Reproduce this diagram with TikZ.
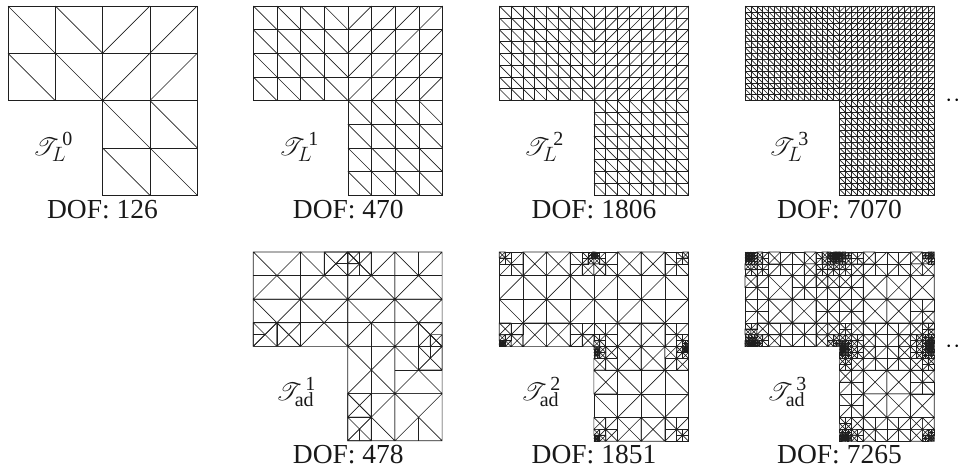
\documentclass[tikz,border=0pt]{standalone}
\usepackage{mathrsfs}
\usepackage{fontspec}
\setmainfont{Liberation Serif}
\DeclareMathSizes{36}{36}{20}{14}
\tikzset{
  mesh/.style={line width=0.65pt,draw=black!88},
  dof/.style={font=\fontsize{27.5}{30}\selectfont,anchor=base,inner sep=0pt,text=black!90},
  lab/.style={font=\fontsize{36}{38}\selectfont,anchor=base west,inner sep=0pt,text=black!90},
  dotslab/.style={font=\fontsize{36}{38}\selectfont,anchor=center,inner sep=0pt}
}
\newcommand\panelat[3]{\begin{scope}[shift={(#1pt,#2pt)},x=#3pt,y=-#3pt]}
% uniform mesh
\newcommand\unimesh[1]{%
  \pgfmathtruncatemacro\NN{#1}\pgfmathtruncatemacro\NH{\NN/2}%
  \pgfmathsetmacro\hh{8/\NN}%
  \foreach \i in {1,...,\NN}{\foreach \j in {1,...,\NN}{%
    \pgfmathtruncatemacro\ok{(\j<=\NH)||(\i>\NH)}%
    \ifnum\ok=1
      \pgfmathsetmacro\xa{(\i-1)*\hh}\pgfmathsetmacro\ya{(\j-1)*\hh}%
      \pgfmathsetmacro\xb{\i*\hh}\pgfmathsetmacro\yb{\j*\hh}%
      \draw[mesh] (\xa,\ya) rectangle (\xb,\yb);
      \pgfmathtruncatemacro\up{(\i>\NH)&&(\j<=\NH)}%
      \ifnum\up=1 \draw[mesh] (\xa,\yb)--(\xb,\ya);\else\draw[mesh] (\xa,\ya)--(\xb,\yb);\fi
    \fi}}%
}
% adaptive mesh
\newcommand\xleaf[3]{\draw[mesh] (#1,#2) rectangle ({#1+#3},{#2+#3}) (#1,#2)--({#1+#3},{#2+#3}) ({#1+#3},#2)--(#1,{#2+#3});}
\newcommand\evaltgt[2]{%
  \xdef\tgtg{\baselev}%
  \foreach \bxa/\bxb/\bya/\byb/\bl in \bandlist {%
    \pgfmathparse{(#1>\bxa&&#1<\bxb&&#2>\bya&&#2<\byb)?max(\tgtg,\bl):\tgtg}%
    \xdef\tgtg{\pgfmathresult}%
  }%
  \foreach \px/\py/\pa/\pc in \singlist {%
    \pgfmathparse{max(\tgtg,min(\pc,\pa-2*log2(max(veclen(#1-\px,#2-\py),0.02))))}%
    \xdef\tgtg{\pgfmathresult}%
  }%
}
% x y size level diagdir(1 = \ , 2 = /)
\newcommand\adcell[5]{\begingroup
  \edef\ax{#1}\edef\ay{#2}\edef\as{#3}\edef\al{#4}%
  \pgfmathsetmacro\cx{\ax+\as/2}\pgfmathsetmacro\cy{\ay+\as/2}%
  \evaltgt{\cx}{\cy}%
  \pgfmathtruncatemacro\mode{\tgtg<\al?0:(\tgtg<\al+1?1:2)}%
  \ifcase\mode
    \pgfmathsetmacro\xe{\ax+\as}\pgfmathsetmacro\ye{\ay+\as}%
    \draw[mesh] (\ax,\ay) rectangle (\xe,\ye);
    \ifnum#5=1 \draw[mesh] (\ax,\ay)--(\xe,\ye);\else\draw[mesh] (\ax,\ye)--(\xe,\ay);\fi
  \or
    \xleaf{\ax}{\ay}{\as}%
  \or
    \adsplit{\ax}{\ay}{\as}{\al}%
  \fi
\endgroup}
\newcommand\adsplit[4]{\begingroup
    \pgfmathsetmacro\sh{#3/2}\pgfmathsetmacro\xm{#1+\sh}\pgfmathsetmacro\ym{#2+\sh}%
    \pgfmathtruncatemacro\lv{#4+2}%
    \edef\nexta{\noexpand\adcell{#1}{#2}{\sh}{\lv}{1}\noexpand\adcell{\xm}{#2}{\sh}{\lv}{2}\noexpand\adcell{#1}{\ym}{\sh}{\lv}{2}\noexpand\adcell{\xm}{\ym}{\sh}{\lv}{1}}%
    \nexta
\endgroup}
\newcommand\admesh{%
  \foreach \sx/\sy in {0/0,2/0,4/0,6/0,0/2,2/2,4/2,6/2,4/4,6/4,4/6,6/6}{\adsplit{\sx}{\sy}{2}{0}}%
}
\begin{document}
\begin{tikzpicture}[x=1pt,y=-1pt]
\useasboundingbox (0,0) rectangle (961,471);
% top row meshes
\panelat{8}{-6}{23.65}\unimesh{4}\end{scope}
\panelat{253.3}{-6}{23.65}\unimesh{8}\end{scope}
\panelat{499.3}{-6}{23.65}\unimesh{16}\end{scope}
\panelat{745}{-6}{23.65}\unimesh{32}\end{scope}
% adaptive 1 (hand placed)
\panelat{253.3}{-252}{23.6}
  \foreach \sx/\sy in {0/0,2/0,4/0,6/0,0/2,2/2,4/2,6/2,4/4,6/4,4/6,6/6}{\xleaf{\sx}{\sy}{2}}
  \draw[mesh] (0,1)--(8,1) (0,3)--(8,3) (6,5)--(8,5) (4,7)--(5,7)
    (1,3)--(1,4) (3,0)--(3,1) (5,0)--(5,1) (7,0)--(7,1) (7,3)--(7,5) (5,3)--(5,8) (7,7)--(7,8);
  \xleaf{3}{0}{1}\xleaf{4}{0}{1}\xleaf{4}{0}{0.5}\draw[mesh] (3.5,0.5)--(4.5,0.5) (4.5,0)--(4.5,1);
  \xleaf{0}{3}{1}\xleaf{1}{3}{1}\draw[mesh] (0,3.5)--(0.5,3.5);
  \xleaf{7}{3}{1}\xleaf{7}{4}{1}\xleaf{7.5}{3.5}{0.5}\draw[mesh] (7.5,3.5)--(7.5,4.5);
  \xleaf{4}{6}{1}\xleaf{4}{7}{1}\draw[mesh] (4.5,7.5)--(4.5,8);
\end{scope}
% adaptive 2
\def\baselev{1}
\def\bandlist{0/8/0/1/2, 0/8/3/5/2, 4/8/7/8/2}
\def\singlist{0.1/3.9/3/10, 4/0.1/3/10, 4.1/4.2/3/9, 7.9/4.1/3/10, 4.1/7.9/3/9, 0.05/0.05/2.5/6, 7.95/0.05/2.5/6, 7.95/7.95/2.5/5}
\panelat{499.3}{-252}{23.65}\admesh\end{scope}
% adaptive 3
\def\baselev{2}
\def\bandlist{0/8/0/1/3, 0/8/3/5/3, 4/8/7/8/3}
\def\singlist{0.3/3.9/4.3/10, 3.9/0.1/5/10, 4.1/4.1/4.6/10, 7.9/4/4.8/10, 4.2/7.9/4.4/10, 0.1/0.1/4.8/9, 7.95/0.05/4/8, 7.95/7.95/4/8}
\panelat{745}{-252}{23.65}\admesh\end{scope}
% labels
\node[dof] (d0) at (102.5,218) {DOF: 126};
\node[dof] (d1) at (348.3,218) {DOF: 470};
\node[dof] (d2) at (594,218) {DOF: 1806};
\node[dof] (d3) at (839.5,218) {DOF: 7070};
\node[dof] (e1) at (348.3,463) {DOF: 478};
\node[dof] (e2) at (594,463) {DOF: 1851};
\node[dof] (e3) at (839.5,463) {DOF: 7265};
\node[lab] (l0) at (33,155) {$\mathscr{T}_L^{\,\mathrm{0}}$};
\node[lab] (l1) at (279,155) {$\mathscr{T}_L^{\,\mathrm{1}}$};
\node[lab] (l2) at (524,155) {$\mathscr{T}_L^{\,\mathrm{2}}$};
\node[lab] (l3) at (769,155) {$\mathscr{T}_L^{\,\mathrm{3}}$};
\node[lab] (a1) at (276,400) {$\mathscr{T}_{\mathrm{ad}}^{\,\mathrm{1}}$};
\node[lab] (a2) at (521,400) {$\mathscr{T}_{\mathrm{ad}}^{\,\mathrm{2}}$};
\node[lab] (a3) at (767,400) {$\mathscr{T}_{\mathrm{ad}}^{\,\mathrm{3}}$};
\node[dotslab] (t) at (952.8,100.7) {$\cdot\kern1pt\cdot$};
\node[dotslab] (b) at (952.8,346.7) {$\cdot\kern1pt\cdot$};
\end{tikzpicture}
\end{document}
